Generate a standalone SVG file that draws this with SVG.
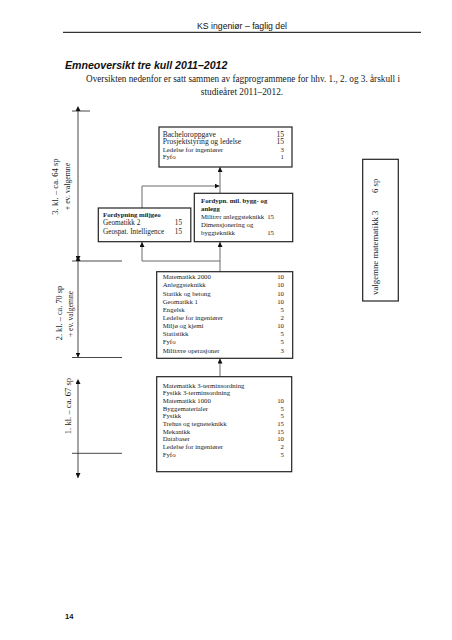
<svg xmlns="http://www.w3.org/2000/svg" width="452" height="640" viewBox="0 0 452 640">
<style>
.sans{font-family:"Liberation Sans",Arial,sans-serif;fill:#111}
.ser{font-family:"Liberation Serif","Times New Roman",serif;fill:#1a1a1a}
.box{fill:#fff;stroke:#222;stroke-width:1.2}
.con{fill:none;stroke:#6a6a6a;stroke-width:1}
.ax{fill:none;stroke:#333;stroke-width:0.9}
.b{font-weight:bold}
.r{text-anchor:end}
.t7{font-size:6.8px}
.t76{font-size:7.6px}
</style>
<defs>
<marker id="ah" viewBox="0 0 6 6" refX="6" refY="3" markerWidth="5" markerHeight="5" markerUnits="userSpaceOnUse" orient="auto">
<path d="M0,0 L6,3 L0,6 z" fill="#111"/>
</marker>
<marker id="ahs" viewBox="0 0 6 6" refX="0" refY="3" markerWidth="5" markerHeight="5" markerUnits="userSpaceOnUse" orient="auto-start-reverse">
<path d="M0,0 L6,3 L0,6 z" fill="#111"/>
</marker>
</defs>
<rect width="452" height="640" fill="#fff"/>
<g id="header">
<text class="sans" x="242" y="28.5" font-size="8.7" text-anchor="middle">KS ingeniør – faglig del</text>
<line x1="63" y1="32.3" x2="421" y2="32.3" stroke="#000" stroke-width="1"/>
<text class="sans b" x="65" y="69" font-size="10.6" font-style="italic">Emneoversikt tre kull 2011–2012</text>
<text class="ser" x="86" y="82" font-size="9.3" textLength="314" lengthAdjust="spacingAndGlyphs">Oversikten nedenfor er satt sammen av fagprogrammene for hhv. 1., 2. og 3. årskull i</text>
<text class="ser" x="242" y="94.7" font-size="9.3" text-anchor="middle">studieåret 2011–2012.</text>
</g>
<g id="axis">
<line class="ax" x1="72" y1="111" x2="90" y2="111"/>
<line class="ax" x1="78" y1="111" x2="78" y2="261" marker-start="url(#ahs)" marker-end="url(#ah)"/>
<line class="ax" x1="72" y1="261" x2="122" y2="261"/>
<line class="ax" x1="78" y1="261" x2="78" y2="357.5" marker-start="url(#ahs)" marker-end="url(#ah)"/>
<line class="ax" x1="72" y1="357.5" x2="122" y2="357.5"/>
<line class="ax" x1="78" y1="384" x2="78" y2="478" marker-start="url(#ahs)" marker-end="url(#ah)"/>
<line class="ax" x1="72" y1="453.3" x2="122" y2="453.3"/>
<text class="ser" transform="translate(58,186.5) rotate(-90)" font-size="8.6" text-anchor="middle">3. kl. – ca. 64 sp</text>
<text class="ser" transform="translate(69.5,186.5) rotate(-90)" font-size="7.8" text-anchor="middle">+ ev. valgemne</text>
<text class="ser" transform="translate(62,313) rotate(-90)" font-size="8.3" text-anchor="middle">2. kl. – ca. 70 sp</text>
<text class="ser" transform="translate(72.8,314) rotate(-90)" font-size="7.6" text-anchor="middle">+ ev. valgemne</text>
<text class="ser" transform="translate(71,406) rotate(-90)" font-size="8.6" text-anchor="middle">1. kl. – ca. 67 sp</text>
</g>
<g id="connectors">
<polyline class="con" points="220,272 220,261 142,261 142,242" marker-end="url(#ah)"/>
<line class="con" x1="220" y1="261" x2="220" y2="242" marker-end="url(#ah)"/>
<polyline class="con" points="142,208 142,186 219.5,186" marker-end="url(#ah)"/>
<line class="con" x1="220" y1="193" x2="220" y2="167" marker-end="url(#ah)"/>
<line class="con" x1="220" y1="377" x2="220" y2="358.5" marker-end="url(#ah)"/>
</g>
<g id="bachelor">
<rect class="box" x="159" y="127" width="133" height="40"/>
<text class="ser t76" x="162.7" y="136.5">Bacheloroppgave</text><text class="ser t76 r" x="284" y="136.5">15</text>
<text class="ser t76" x="162.7" y="144">Prosjektstyring og ledelse</text><text class="ser t76 r" x="284" y="144">15</text>
<text class="ser t7" x="162.7" y="151.5">Ledelse for ingeniører</text><text class="ser t7 r" x="284" y="151.5">3</text>
<text class="ser t7" x="162.7" y="159">Fyfo</text><text class="ser t7 r" x="284" y="159">1</text>
</g>
<g id="miljo">
<rect class="box" x="98.3" y="208" width="92.5" height="33.7"/>
<text class="ser b" x="103" y="216.5" font-size="6.8">Fordypning miljgeo</text>
<text class="ser" x="103" y="225" font-size="7.2">Geomatikk 2</text><text class="ser r" x="182" y="225" font-size="7.2">15</text>
<text class="ser" x="103" y="233.5" font-size="7.2">Geospat. Intelligence</text><text class="ser r" x="182" y="233.5" font-size="7.2">15</text>
</g>
<g id="bygg">
<rect class="box" x="194.3" y="193.3" width="98.4" height="48.4"/>
<text class="ser b t7" x="201" y="203.3">Fordypn. mil. bygg- og</text>
<text class="ser b t7" x="201" y="211.3">anlegg</text>
<text class="ser t7" x="201" y="219">Militær anleggsteknikk</text><text class="ser t7 r" x="274" y="219">15</text>
<text class="ser t7" x="201" y="227">Dimensjonering og</text>
<text class="ser t7" x="201" y="235">byggteknikk</text><text class="ser t7 r" x="274" y="235">15</text>
</g>
<g id="kull2">
<rect class="box" x="156.7" y="271.7" width="136" height="86.6"/>
<g class="ser t7">
<text x="162.7" y="279.2">Matematikk 2000</text><text class="r" x="284" y="279.2">10</text>
<text x="162.7" y="287.3">Anleggsteknikk</text><text class="r" x="284" y="287.3">10</text>
<text x="162.7" y="295.5">Statikk og betong</text><text class="r" x="284" y="295.5">10</text>
<text x="162.7" y="303.6">Geomatikk 1</text><text class="r" x="284" y="303.6">10</text>
<text x="162.7" y="311.8">Engelsk</text><text class="r" x="284" y="311.8">5</text>
<text x="162.7" y="319.9">Ledelse for ingeniører</text><text class="r" x="284" y="319.9">2</text>
<text x="162.7" y="328">Miljø og kjemi</text><text class="r" x="284" y="328">10</text>
<text x="162.7" y="336.2">Statistikk</text><text class="r" x="284" y="336.2">5</text>
<text x="162.7" y="344.3">Fyfo</text><text class="r" x="284" y="344.3">5</text>
<text x="162.7" y="352.5">Militære operasjoner</text><text class="r" x="284" y="352.5">3</text>
</g>
</g>
<g id="kull1">
<rect class="box" x="156.7" y="376.7" width="135" height="95"/>
<g class="ser t7">
<text x="162.7" y="387.5">Matematikk 3-terminsordning</text>
<text x="162.7" y="395.2">Fysikk 3-terminsordning</text>
<text x="162.7" y="402.9">Matematikk 1000</text><text class="r" x="284" y="402.9">10</text>
<text x="162.7" y="410.6">Byggematerialer</text><text class="r" x="284" y="410.6">5</text>
<text x="162.7" y="418.3">Fysikk</text><text class="r" x="284" y="418.3">5</text>
<text x="162.7" y="426">Trehus og tegneteknikk</text><text class="r" x="284" y="426">15</text>
<text x="162.7" y="433.7">Mekanikk</text><text class="r" x="284" y="433.7">15</text>
<text x="162.7" y="441.4">Databaser</text><text class="r" x="284" y="441.4">10</text>
<text x="162.7" y="449.1">Ledelse for ingeniører</text><text class="r" x="284" y="449.1">2</text>
<text x="162.7" y="456.8">Fyfo</text><text class="r" x="284" y="456.8">5</text>
</g>
</g>
<g id="valgemne">
<rect class="box" x="362.7" y="159.3" width="35.6" height="141.7"/>
<text class="ser" transform="translate(378,295) rotate(-90)" font-size="8.8">valgemne matematikk 3</text>
<text class="ser" transform="translate(378,193) rotate(-90)" font-size="8.8">6 sp</text>
</g>
<g id="footer">
<text class="sans b" x="65" y="619" font-size="7.5">14</text>
</g>
</svg>
